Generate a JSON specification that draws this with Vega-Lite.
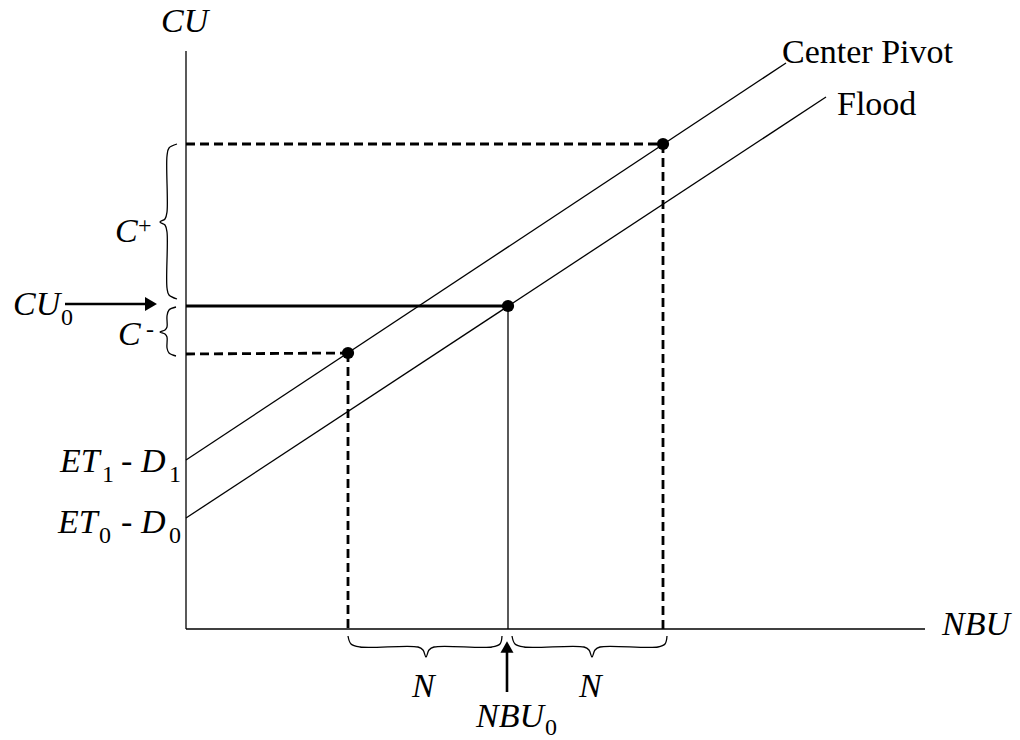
{
  "$schema": "https://vega.github.io/schema/vega-lite/v6.json",
  "width": 1020,
  "height": 740,
  "padding": 0,
  "autosize": {"type": "none"},
  "background": "white",
  "config": {"view": {"stroke": null}},
  "encoding": {
    "x": {"field": "x", "type": "quantitative", "scale": {"domain": [-186, 834], "nice": false, "zero": false}, "axis": null},
    "y": {"field": "y", "type": "quantitative", "scale": {"domain": [-111, 629], "nice": false, "zero": false}, "axis": null}
  },
  "layer": [
    {
      "data": {"values": [
        {"name": "y-axis", "x": 0, "y": 0, "x2": 0, "y2": 578},
        {"name": "x-axis", "x": 0, "y": 0, "x2": 739, "y2": 0},
        {"name": "Center Pivot", "x": 0, "y": 169, "x2": 600, "y2": 566},
        {"name": "Flood", "x": 0, "y": 111, "x2": 640, "y2": 532},
        {"name": "NBU0 drop", "x": 322, "y": 323, "x2": 322, "y2": 0}
      ]},
      "mark": {"type": "rule", "color": "black", "strokeWidth": 1.3},
      "encoding": {"x2": {"field": "x2"}, "y2": {"field": "y2"}}
    },
    {
      "data": {"values": [
        {"name": "CU0 shaft", "x": -121, "y": 325, "x2": -36, "y2": 325},
        {"name": "NBU0 shaft", "x": 321, "y": -63, "x2": 321, "y2": -22}
      ]},
      "mark": {"type": "rule", "color": "black", "strokeWidth": 2.6},
      "encoding": {"x2": {"field": "x2"}, "y2": {"field": "y2"}}
    },
    {
      "data": {"values": [
        {"name": "C+ level", "x": 0, "y": 485, "x2": 477, "y2": 485},
        {"name": "C+ drop", "x": 477, "y": 485, "x2": 477, "y2": 0},
        {"name": "C- level", "x": 0, "y": 275, "x2": 162, "y2": 276},
        {"name": "C- drop", "x": 162, "y": 276, "x2": 162, "y2": 0}
      ]},
      "mark": {"type": "rule", "color": "black", "strokeWidth": 2.8, "strokeDash": [9, 5]},
      "encoding": {"x2": {"field": "x2"}, "y2": {"field": "y2"}}
    },
    {
      "data": {"values": [
        {"name": "CU0 level", "x": 0, "y": 323, "x2": 322, "y2": 323}
      ]},
      "mark": {"type": "rule", "color": "black", "strokeWidth": 2.8},
      "encoding": {"x2": {"field": "x2"}, "y2": {"field": "y2"}}
    },
    {
      "data": {"values": [
        {"b": "C+", "i": 0, "x": -9, "y": 485},
        {"b": "C+", "i": 1, "x": -17, "y": 481},
        {"b": "C+", "i": 2, "x": -19, "y": 473},
        {"b": "C+", "i": 3, "x": -19, "y": 417},
        {"b": "C+", "i": 4, "x": -21, "y": 410},
        {"b": "C+", "i": 5, "x": -26, "y": 407},
        {"b": "C+", "i": 6, "x": -21, "y": 404},
        {"b": "C+", "i": 7, "x": -19, "y": 397},
        {"b": "C+", "i": 8, "x": -19, "y": 341},
        {"b": "C+", "i": 9, "x": -17, "y": 334},
        {"b": "C+", "i": 10, "x": -9, "y": 330},
        {"b": "C-", "i": 0, "x": -10, "y": 322},
        {"b": "C-", "i": 1, "x": -17, "y": 319},
        {"b": "C-", "i": 2, "x": -19, "y": 313},
        {"b": "C-", "i": 3, "x": -19, "y": 302},
        {"b": "C-", "i": 4, "x": -21, "y": 299},
        {"b": "C-", "i": 5, "x": -26, "y": 297},
        {"b": "C-", "i": 6, "x": -21, "y": 295},
        {"b": "C-", "i": 7, "x": -19, "y": 292},
        {"b": "C-", "i": 8, "x": -19, "y": 281},
        {"b": "C-", "i": 9, "x": -17, "y": 276},
        {"b": "C-", "i": 10, "x": -10, "y": 273},
        {"b": "N1", "i": 0, "x": 162, "y": -7},
        {"b": "N1", "i": 1, "x": 165, "y": -15},
        {"b": "N1", "i": 2, "x": 174, "y": -18},
        {"b": "N1", "i": 3, "x": 232, "y": -18},
        {"b": "N1", "i": 4, "x": 237, "y": -21},
        {"b": "N1", "i": 5, "x": 240, "y": -28},
        {"b": "N1", "i": 6, "x": 243, "y": -21},
        {"b": "N1", "i": 7, "x": 248, "y": -18},
        {"b": "N1", "i": 8, "x": 306, "y": -18},
        {"b": "N1", "i": 9, "x": 314, "y": -15},
        {"b": "N1", "i": 10, "x": 316, "y": -7},
        {"b": "N2", "i": 0, "x": 326, "y": -7},
        {"b": "N2", "i": 1, "x": 329, "y": -15},
        {"b": "N2", "i": 2, "x": 338, "y": -18},
        {"b": "N2", "i": 3, "x": 398, "y": -18},
        {"b": "N2", "i": 4, "x": 403, "y": -21},
        {"b": "N2", "i": 5, "x": 406, "y": -28},
        {"b": "N2", "i": 6, "x": 409, "y": -21},
        {"b": "N2", "i": 7, "x": 414, "y": -18},
        {"b": "N2", "i": 8, "x": 472, "y": -18},
        {"b": "N2", "i": 9, "x": 479, "y": -15},
        {"b": "N2", "i": 10, "x": 481, "y": -7}
      ]},
      "mark": {"type": "line", "color": "black", "strokeWidth": 1.3, "interpolate": "catmull-rom"},
      "encoding": {"detail": {"field": "b"}, "order": {"field": "i", "type": "quantitative"}}
    },
    {
      "data": {"values": [
        {"name": "C+ point", "x": 477, "y": 485},
        {"name": "CU0 point", "x": 322, "y": 323},
        {"name": "C- point", "x": 162, "y": 276}
      ]},
      "mark": {"type": "point", "filled": true, "color": "black", "opacity": 1, "size": 150}
    },
    {
      "data": {"values": [{"name": "CU0 head", "x": -35, "y": 325}]},
      "mark": {"type": "point", "shape": "triangle-right", "filled": true, "color": "black", "opacity": 1, "size": 190}
    },
    {
      "data": {"values": [{"name": "NBU0 head", "x": 321, "y": -18}]},
      "mark": {"type": "point", "shape": "triangle-up", "filled": true, "color": "black", "opacity": 1, "size": 170}
    },
    {
      "data": {"values": [
        {"x": -25, "y": 597, "t": "CU"},
        {"x": -71, "y": 387, "t": "C"},
        {"x": -173, "y": 314, "t": "CU"},
        {"x": -68, "y": 284, "t": "C"},
        {"x": -126, "y": 157, "t": "ET"},
        {"x": -45, "y": 157, "t": "D"},
        {"x": -128, "y": 96, "t": "ET"},
        {"x": -45, "y": 96, "t": "D"},
        {"x": 756, "y": -6, "t": "NBU"},
        {"x": 226, "y": -68, "t": "N"},
        {"x": 393, "y": -68, "t": "N"},
        {"x": 290, "y": -98, "t": "NBU"}
      ]},
      "mark": {"type": "text", "font": "Liberation Serif", "fontStyle": "italic", "fontSize": 34, "align": "left", "baseline": "alphabetic", "color": "black"},
      "encoding": {"text": {"field": "t"}}
    },
    {
      "data": {"values": [
        {"x": 596, "y": 566, "t": "Center Pivot"},
        {"x": 651, "y": 514, "t": "Flood"},
        {"x": -65, "y": 157, "t": "-"},
        {"x": -65, "y": 96, "t": "-"}
      ]},
      "mark": {"type": "text", "font": "Liberation Serif", "fontSize": 34, "align": "left", "baseline": "alphabetic", "color": "black"},
      "encoding": {"text": {"field": "t"}}
    },
    {
      "data": {"values": [
        {"x": -48, "y": 396, "t": "+"},
        {"x": -40, "y": 292, "t": "-"},
        {"x": -125, "y": 304, "t": "0"},
        {"x": -84, "y": 147, "t": "1"},
        {"x": -17, "y": 147, "t": "1"},
        {"x": -87, "y": 86, "t": "0"},
        {"x": -17, "y": 86, "t": "0"},
        {"x": 359, "y": -106, "t": "0"}
      ]},
      "mark": {"type": "text", "font": "Liberation Serif", "fontSize": 24, "align": "left", "baseline": "alphabetic", "color": "black"},
      "encoding": {"text": {"field": "t"}}
    }
  ]
}
